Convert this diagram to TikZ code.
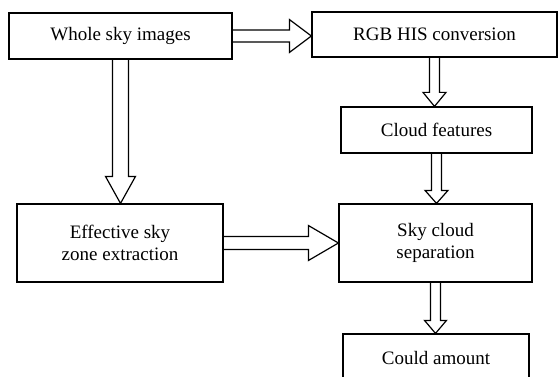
\documentclass[tikz,border=0pt]{standalone}
\usepackage{fontspec}
\setmainfont{Liberation Serif}
\usetikzlibrary{calc}

\newcommand\harrow[5]{\draw[fat] let \p1=(#1), \p2=(#2) in (\x1,\y1+#3pt) -- (\x2-#5pt,\y1+#3pt) -- (\x2-#5pt,\y1+#4pt) -- (\x2,\y1) -- (\x2-#5pt,\y1-#4pt) -- (\x2-#5pt,\y1-#3pt) -- (\x1,\y1-#3pt);}
\newcommand\varrow[5]{\draw[fat] let \p1=(#1), \p2=(#2) in (\x1+#3pt,\y1) -- (\x1+#3pt,\y2+#5pt) -- (\x1+#4pt,\y2+#5pt) -- (\x1,\y2) -- (\x1-#4pt,\y2+#5pt) -- (\x1-#3pt,\y2+#5pt) -- (\x1-#3pt,\y1);}

\begin{document}
\begin{tikzpicture}[x=1pt,y=-1pt,
  box/.style={draw,line width=1.2pt,align=center,inner sep=0pt,font=\fontsize{19}{22}\selectfont},
  fat/.style={line width=1.2pt,line join=miter}]
\useasboundingbox (0,0) rectangle (559,377);
\clip (0,0) rectangle (559,377);
\node[box,minimum width=223,minimum height=46] (whole) at (120.5,36) {Whole sky images};
\node[box,minimum width=245,minimum height=45] (rgb) at (434.5,34.5) {RGB HIS conversion};
\node[box,minimum width=191,minimum height=46] (feat) at (436.5,130) {Cloud features};
\node[box,minimum width=206,minimum height=78] (eff) at (120,243) {Effective sky\\zone extraction};
\node[box,minimum width=193,minimum height=78] (sep) at (435.5,243) {Sky cloud\\separation};
\node[box,minimum width=186,minimum height=48] (amount) at (436,358) {Could amount};
\harrow{whole.east}{rgb.west}{6}{16.5}{22}
\varrow{whole.south}{eff.north}{8}{15}{27}
\varrow{rgb.south}{feat.north}{5}{11.5}{14}
\varrow{feat.south}{sep.north}{5}{11.5}{13}
\harrow{eff.east}{sep.west}{6.5}{17.5}{30}
\varrow{sep.south}{amount.north}{5}{11}{13}
\end{tikzpicture}
\end{document}
